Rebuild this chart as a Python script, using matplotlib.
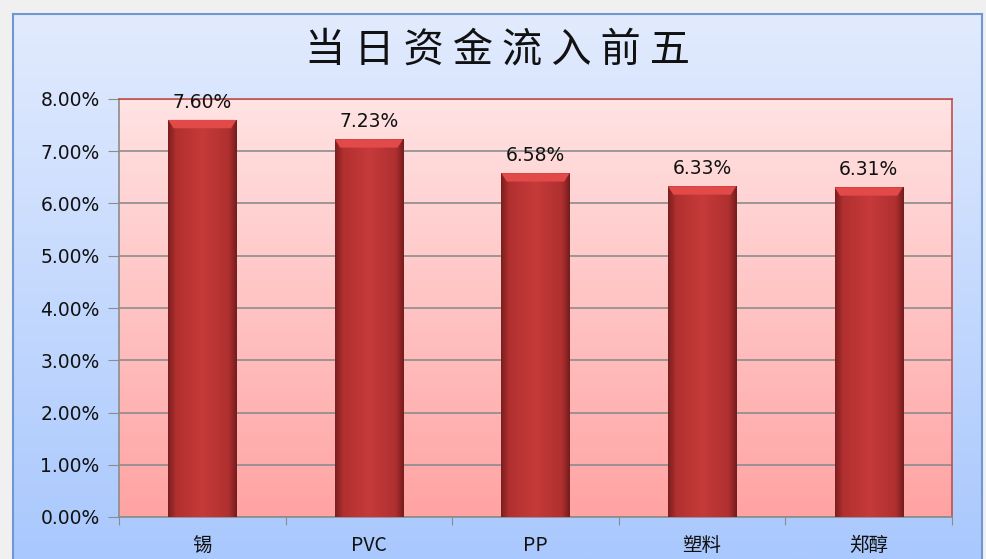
import numpy as np
import matplotlib
matplotlib.use('Agg')
import matplotlib.pyplot as plt
from matplotlib.colors import LinearSegmentedColormap
from matplotlib.ticker import FuncFormatter, FixedLocator

plt.rcParams['font.family'] = ['DejaVu Sans', 'Noto Sans CJK SC']

# data
categories = ['锡', 'PVC', 'PP', '塑料', '郑醇']
values = [7.60, 7.23, 6.58, 6.33, 6.31]
title = '当日资金流入前五'

fig = plt.figure(figsize=(9.87, 5.59), dpi=100)
fig.patch.set_facecolor('#f0f0f0')

# chart area background (blue gradient)
bg = fig.add_axes([13 / 987, 0, 969 / 987, 1 - 14 / 559])
bg_cmap = LinearSegmentedColormap.from_list('bg', ['#a9c8fe', '#e2ebfd'])
bg.imshow(np.linspace(0, 1, 256).reshape(-1, 1), cmap=bg_cmap, aspect='auto',
          extent=[0, 1, 0, 1], origin='lower')
bg.set_xticks([])
bg.set_yticks([])
for s in bg.spines.values():
    s.set_color('#6f97d3')
    s.set_linewidth(1.5)
bg.spines['bottom'].set_visible(False)

# title, letters spaced out like the original
fig.text(498 / 987, 1 - 50 / 559, ' '.join(title),
         ha='center', va='center', fontsize=29, fontweight='medium',
         family=['Noto Sans CJK SC'], color='#111111')

ax = fig.add_axes([119 / 987, 42 / 559, 833 / 987, 418 / 559])
ax.set_xlim(-0.5, 4.5)
ax.set_ylim(0, 8)

# plot area gradient (pink)
pa_cmap = LinearSegmentedColormap.from_list('pa', ['#ffa3a3', '#ffe3e3'])
ax.imshow(np.linspace(0, 1, 256).reshape(-1, 1), cmap=pa_cmap, aspect='auto',
          extent=[-0.5, 4.5, 0, 8], origin='lower', zorder=0)

ax.yaxis.set_major_locator(FixedLocator(np.arange(0, 9, 1)))
ax.yaxis.grid(True, color='#8c8c8c', linewidth=1.2, zorder=1)
ax.set_axisbelow(True)

x = np.arange(len(categories))
width = 0.41
bars = ax.bar(x, values, width=width, color='#b83232', zorder=2)

# horizontal shading on each bar
bar_cmap = LinearSegmentedColormap.from_list(
    'bar', [(0, '#7a1e1e'), (0.12, '#b23030'), (0.5, '#c63a3a'),
            (0.88, '#b03030'), (1, '#741c1c')])
grad = np.linspace(0, 1, 256).reshape(1, -1)
for b, v in zip(bars, values):
    x0 = b.get_x()
    im = ax.imshow(grad, cmap=bar_cmap, aspect='auto',
                   extent=[x0, x0 + width, 0, v], zorder=3)
    im.set_clip_path(b)
    # bevelled top
    ax.fill([x0, x0 + width, x0 + width * 0.92, x0 + width * 0.08],
            [v, v, v - 0.16, v - 0.16], color='#e24a4a', zorder=4, lw=0)
    ax.text(b.get_x() + width / 2, v + 0.16, f'{v:.2f}%', ha='center',
            va='bottom', fontsize=13.5, color='#111111', zorder=5)

ax.yaxis.set_major_formatter(FuncFormatter(lambda y, _: f'{y:.2f}%'))
ax.tick_params(axis='y', labelsize=13.5, length=8, color='#8c8c8c', pad=6,
               labelcolor='#111111')

ax.set_xticks(np.arange(-0.5, 5, 1))
ax.set_xticks(x, minor=True)
ax.set_xticklabels([])
ax.set_xticklabels(categories, minor=True, family=['Noto Sans CJK SC'],
                   fontsize=14, color='#111111')
ax.tick_params(axis='x', which='major', length=6, color='#8c8c8c')
ax.tick_params(axis='x', which='minor', length=0, pad=13)

ax.spines['left'].set_color('#8c8c8c')
ax.spines['bottom'].set_color('#8c8c8c')
ax.spines['top'].set_color('#c0504d')
ax.spines['right'].set_color('#c0504d')
for s in ax.spines.values():
    s.set_linewidth(1.2)

fig.savefig('out.png', dpi=100, facecolor=fig.get_facecolor())
